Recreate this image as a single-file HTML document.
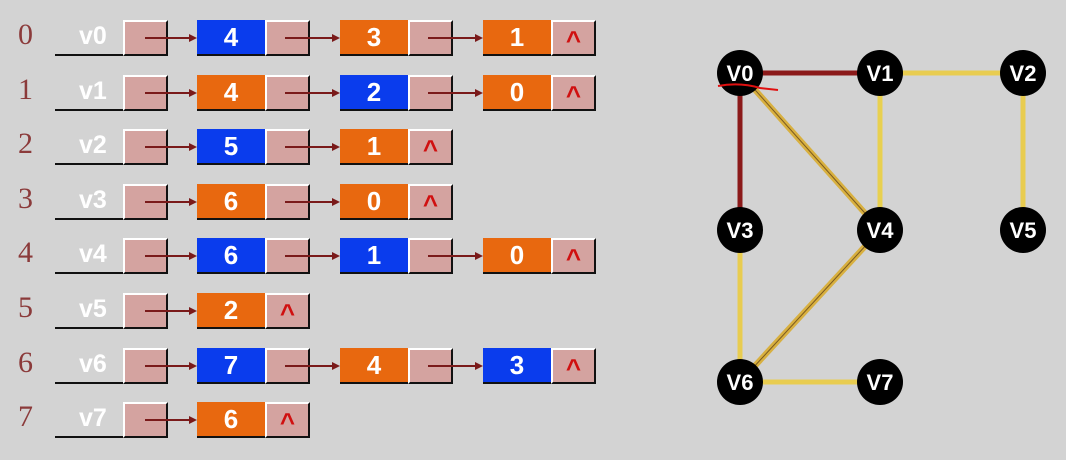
<!DOCTYPE html>
<html><head><style>
body{margin:0;width:1066px;height:460px;background:#d3d3d3;position:relative;overflow:hidden;font-family:"Liberation Sans",sans-serif}
.idx{position:absolute;left:18px;font-family:"Liberation Serif",serif;font-size:30px;color:#8b3a3a}
.hl{position:absolute;left:55px;width:68px;height:36px;border-bottom:2px solid #111;box-sizing:border-box}
.hl span{position:absolute;left:24px;top:2px;color:#fff;font-size:25px;font-weight:bold}
.p{position:absolute;width:45px;height:36px;background:#d4a3a0;box-sizing:border-box;border-top:2px solid #fff;border-left:2px solid #fff;border-right:2px solid #111;border-bottom:2px solid #111}
.d{position:absolute;width:68px;height:36px;box-sizing:border-box;border-bottom:2px solid #111;color:#fff;font-size:26px;font-weight:bold;text-align:center;line-height:34px}
.b{background:#0a3ced}.o{background:#e8680f}
.nul{color:#d01010;font-size:26px;text-align:center;line-height:36px;font-weight:bold}
.ar{position:absolute;height:2px;background:#7a1a1a}
.ah{position:absolute;width:0;height:0;border-left:8px solid #7a1a1a;border-top:4px solid transparent;border-bottom:4px solid transparent}
</style></head><body>
<div id="L"></div>
<svg width="1066" height="460" style="position:absolute;left:0;top:0">
<g stroke-linecap="round">
<line x1="740" y1="73" x2="880" y2="73" stroke="#8b1a1a" stroke-width="5"/>
<line x1="740" y1="73" x2="740" y2="230" stroke="#8b1a1a" stroke-width="5"/>
<line x1="880" y1="73" x2="1023" y2="73" stroke="#e8cc50" stroke-width="5"/>
<line x1="1023" y1="73" x2="1023" y2="230" stroke="#e8cc50" stroke-width="5"/>
<line x1="880" y1="73" x2="880" y2="230" stroke="#e8d050" stroke-width="5"/>
<line x1="740" y1="73" x2="880" y2="230" stroke="#d8b040" stroke-width="6"/>
<line x1="740" y1="73" x2="880" y2="230" stroke="#7a5a20" stroke-width="1"/>
<line x1="880" y1="230" x2="740" y2="382" stroke="#d8b040" stroke-width="6"/>
<line x1="880" y1="230" x2="740" y2="382" stroke="#7a5a20" stroke-width="1"/>
<line x1="740" y1="230" x2="740" y2="382" stroke="#e8cc50" stroke-width="5"/>
<line x1="740" y1="382" x2="880" y2="382" stroke="#e8cc50" stroke-width="5"/>
</g>
<g font-family="Liberation Sans" font-size="22" font-weight="bold" fill="#fff" text-anchor="middle">
<circle cx="740" cy="73" r="23" fill="#000"/><text x="740" y="81">V0</text>
<circle cx="880" cy="73" r="23" fill="#000"/><text x="880" y="81">V1</text>
<circle cx="1023" cy="73" r="23" fill="#000"/><text x="1023" y="81">V2</text>
<circle cx="740" cy="230" r="23" fill="#000"/><text x="740" y="238">V3</text>
<circle cx="880" cy="230" r="23" fill="#000"/><text x="880" y="238">V4</text>
<circle cx="1023" cy="230" r="23" fill="#000"/><text x="1023" y="238">V5</text>
<circle cx="740" cy="382" r="23" fill="#000"/><text x="740" y="390">V6</text>
<circle cx="880" cy="382" r="23" fill="#000"/><text x="880" y="390">V7</text>
</g>
<path d="M718 86 Q740 82 760 88 L778 90" stroke="#e01010" stroke-width="2" fill="none"/>
</svg>
<script>
var rows=[[["4","b"],["3","o"],["1","o"]],[["4","o"],["2","b"],["0","o"]],[["5","b"],["1","o"]],[["6","o"],["0","o"]],[["6","b"],["1","b"],["0","o"]],[["2","o"]],[["7","b"],["4","o"],["3","b"]],[["6","o"]]];
var h="",xs=[197,340,483];
rows.forEach(function(r,i){
 var t=Math.round(20+i*54.6);
 h+='<div class="idx" style="top:'+(t-2)+'px">'+i+'</div>';
 h+='<div class="hl" style="top:'+t+'px"><span>v'+i+'</span></div>';
 h+='<div class="p" style="left:123px;top:'+t+'px"></div>';
 var px=145;
 r.forEach(function(n,j){
  var x=xs[j];
  h+='<div class="ar" style="left:'+px+'px;width:'+(x-px-8)+'px;top:'+(t+17)+'px"></div><div class="ah" style="left:'+(x-8)+'px;top:'+(t+14)+'px"></div>';
  h+='<div class="d '+n[1]+'" style="left:'+x+'px;top:'+t+'px">'+n[0]+'</div>';
  var last=j==r.length-1;
  h+='<div class="p'+(last?' nul':'')+'" style="left:'+(x+68)+'px;top:'+t+'px">'+(last?'^':'')+'</div>';
  px=x+88;
 });
});
document.getElementById('L').innerHTML=h;
</script>
</body></html>
